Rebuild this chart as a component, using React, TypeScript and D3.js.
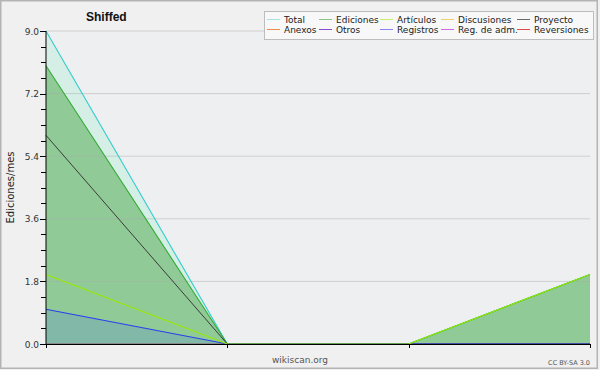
import * as d3 from 'd3'
import { useEffect } from 'react'

const months = ['m1', 'm2', 'm3', 'm4']
const total = [9, 0, 0, 2]
const ediciones = [8, 0, 0, 2]
const articulos = [2, 0, 0, 2]
const discusiones = [0, 0, 0, 0]
const proyecto = [6, 0, 0, 0]
const anexos = [0, 0, 0, 0]
const otros = [0, 0, 0, 0]
const registros = [1, 0, 0, 0]
const regAdm = [0, 0, 0, 0]
const reversiones = [0, 0, 0, 0]
const yTicks = [0, 1.8, 3.6, 5.4, 7.2, 9.0]

const legendRow1 = ['Total', 'Ediciones', 'Artículos', 'Discusiones', 'Proyecto']
const legendRow2 = ['Anexos', 'Otros', 'Registros', 'Reg. de adm.', 'Reversiones']
const legendColors1 = ['#a6e2e2', '#86c686', '#c6ee6a', '#eed06a', '#6a6a6a']
const legendColors2 = ['#ee8a4e', '#8a4ecc', '#8686ee', '#cc6ae6', '#e04a4a']

export default function App() {
  useEffect(() => {
    document.body.style.margin = '0'
  }, [])

  const W = 600, H = 370
  const m = { left: 46, right: 590, top: 31, bottom: 344 }
  const x = d3.scalePoint<string>().domain(months).range([m.left, m.right])
  const y = d3.scaleLinear().domain([0, 9]).range([m.bottom, m.top])
  const minor = d3.range(0, 9.001, 0.45)

  const line = (vals: number[]) =>
    d3.line<number>().x((_, i) => x(months[i])!).y(d => y(d))(vals) || ''
  const area = (vals: number[]) =>
    d3.area<number>().x((_, i) => x(months[i])!).y0(y(0)).y1(d => y(d))(vals) || ''

  const font = '"DejaVu Sans", sans-serif'
  const colX = [267, 319, 380, 441, 517]

  const zeroSeries = [discusiones, anexos, otros, regAdm, reversiones]

  return (
    <svg width={W} height={H} style={{ display: 'block', fontFamily: font }}>
      <rect x={0} y={0} width={W} height={H} fill="#f0f0f0" />
      <rect x={0.75} y={0.75} width={596.5} height={367.5} fill="none" stroke="#b4b4b4" strokeWidth={1.5} />
      <rect x={m.left} y={m.top} width={m.right - m.left} height={m.bottom - m.top} fill="#eeeff1" />

      {/* areas */}
      <path d={area(total)} fill="#d5efe7" />
      <path d={area(ediciones)} fill="#90cb97" />
      <path d={area(registros)} fill="rgba(70,110,235,0.2)" />

      {/* grid */}
      {yTicks.slice(1).map(t => (
        <line key={t} x1={m.left} x2={m.right} y1={y(t)} y2={y(t)} stroke="#a8a8a8" strokeOpacity={0.45} />
      ))}

      {/* lines */}
      {zeroSeries.map((s, i) => (
        <path key={i} d={line(s)} fill="none" stroke="#888" strokeWidth={1} />
      ))}
      <path d={line(total)} fill="none" stroke="#33cccc" strokeWidth={1.1} />
      <path d={line(ediciones)} fill="none" stroke="#33aa33" strokeWidth={1.1} />
      <path d={line(proyecto)} fill="none" stroke="#3a3a3a" strokeWidth={1} />
      <path d={line(registros)} fill="none" stroke="#2a3ef0" strokeWidth={1.2} />
      <path d={line(articulos)} fill="none" stroke="#9be800" strokeWidth={1.2} />

      {/* axes */}
      <line x1={m.left} x2={m.left} y1={m.top} y2={m.bottom} stroke="#000" />
      <line x1={m.left} x2={m.right + 0.5} y1={m.bottom + 0.5} y2={m.bottom + 0.5} stroke="#000" />
      {minor.map(t => (
        <line key={t} x1={m.left - 5} x2={m.left} y1={Math.round(y(t)) + 0.5} y2={Math.round(y(t)) + 0.5} stroke="#000" />
      ))}
      {yTicks.map(t => (
        <g key={t}>
          <line x1={m.left - 6} x2={m.left} y1={Math.round(y(t)) + 0.5} y2={Math.round(y(t)) + 0.5} stroke="#000" />
          <text x={39} y={y(t) + 3.5} textAnchor="end" fontSize={9} fill="#333">{t.toFixed(1)}</text>
        </g>
      ))}
      {months.map(mm => (
        <line key={mm} x1={Math.round(x(mm)!) + 0.5} x2={Math.round(x(mm)!) + 0.5} y1={m.bottom} y2={m.bottom + 4} stroke="#000" />
      ))}

      {/* titles */}
      <text x={86} y={21} fontSize={12} fontWeight="bold" fontFamily='"Liberation Sans", Arial, sans-serif' fill="#111">Shiffed</text>
      <text transform={`translate(14, ${(m.top + m.bottom) / 2}) rotate(-90)`} textAnchor="middle" fontSize={10} fill="#222">Ediciones/mes</text>
      <text x={300} y={363} textAnchor="middle" fontSize={9} fill="#555">wikiscan.org</text>
      <text x={590} y={365} textAnchor="end" fontSize={6.5} fill="#555">CC BY-SA 3.0</text>

      {/* legend */}
      <rect x={264.5} y={11.5} width={329} height={28} fill="#f8f8f8" stroke="#bdbdbd" />
      {legendRow1.map((name, i) => (
        <g key={name}>
          <line x1={colX[i]} x2={colX[i] + 13} y1={19.5} y2={19.5} stroke={legendColors1[i]} />
          <text x={colX[i] + 17} y={23} fontSize={9} fill="#222">{name}</text>
        </g>
      ))}
      {legendRow2.map((name, i) => (
        <g key={name}>
          <line x1={colX[i]} x2={colX[i] + 13} y1={29.5} y2={29.5} stroke={legendColors2[i]} />
          <text x={colX[i] + 17} y={33} fontSize={9} fill="#222">{name}</text>
        </g>
      ))}
    </svg>
  )
}
